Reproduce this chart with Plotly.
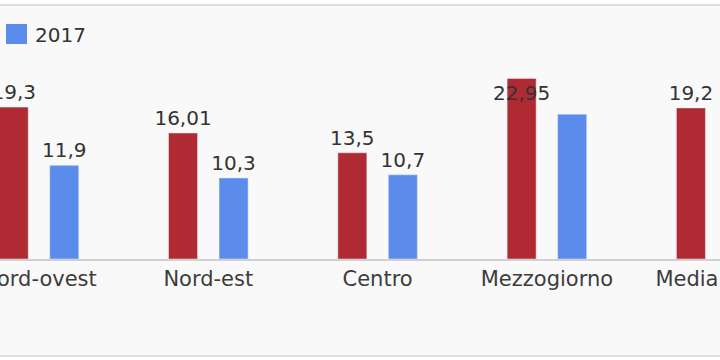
import plotly.graph_objects as go

categories = ["Nord-ovest", "Nord-est", "Centro", "Mezzogiorno", "Media Italia"]
values_2016 = [19.3, 16.01, 13.5, 22.95, 19.2]
values_2017 = [11.9, 10.3, 10.7, 18.4, None]
labels_2016 = ["19,3", "16,01", "13,5", "22,95", "19,2"]
labels_2017 = ["11,9", "10,3", "10,7", "", ""]
series_names = ["2016", "2017"]

RED = "#b02a33"
BLUE = "#5b8ceb"
FONT = "DejaVu Sans"

fig = go.Figure()
fig.add_trace(go.Bar(
    x=categories, y=values_2016, name=series_names[0], marker_color=RED,
    text=labels_2016,
    textposition=["outside", "outside", "outside", "inside", "outside"],
    insidetextanchor="end", textangle=0,
    textfont=dict(family=FONT, size=20, color="#333333"),
    insidetextfont=dict(family=FONT, size=20, color="#333333"),
    outsidetextfont=dict(family=FONT, size=20, color="#333333"),
    constraintext="none", cliponaxis=False, showlegend=False,
))
fig.add_trace(go.Bar(
    x=categories, y=values_2017, name=series_names[1], marker_color=BLUE,
    text=labels_2017, textposition="outside", textangle=0,
    textfont=dict(family=FONT, size=20, color="#333333"),
    constraintext="none", cliponaxis=False, showlegend=False,
))

W, H = 720, 360
mt, mb = 78, 101
ph = H - mt - mb

def py2paper(py):
    return (H - mb - py) / ph

shapes = [
    dict(type="rect", xref="paper", yref="paper", x0=-0.01, x1=1.01,
         y0=py2paper(356), y1=py2paper(5), fillcolor="#f9f9f9",
         line=dict(color="#dedede", width=2), layer="below"),
    dict(type="rect", xref="paper", yref="paper", x0=-92 / W, x1=-71 / W,
         y0=py2paper(44), y1=py2paper(24), fillcolor=RED, line=dict(width=0)),
    dict(type="rect", xref="paper", yref="paper", x0=6 / W, x1=27 / W,
         y0=py2paper(44), y1=py2paper(24), fillcolor=BLUE, line=dict(width=0)),
]
annotations = [
    dict(xref="paper", yref="paper", x=-64 / W, y=py2paper(35), text=series_names[0],
         showarrow=False, xanchor="left", yanchor="middle",
         font=dict(family=FONT, size=20, color="#333333")),
    dict(xref="paper", yref="paper", x=33 / W, y=py2paper(35), text=series_names[1],
         showarrow=False, xanchor="left", yanchor="middle",
         font=dict(family=FONT, size=20, color="#333333")),
]

fig.update_layout(
    width=W, height=H,
    margin=dict(l=0, r=0, t=mt, b=mb, autoexpand=False),
    paper_bgcolor="white", plot_bgcolor="rgba(0,0,0,0)",
    barmode="group", bargap=0.403, bargroupgap=0.426,
    shapes=shapes, annotations=annotations,
    showlegend=False,
    xaxis=dict(range=[-0.2304, 4.0225], showline=True, linecolor="#d0d0d0", linewidth=2,
               showgrid=False, zeroline=False, ticks="",
               tickfont=dict(family=FONT, size=21, color="#3c3c3c")),
    yaxis=dict(range=[0, 23], visible=False, showgrid=False, zeroline=False),
)

fig.write_html("out.html", config={"displayModeBar": False},
               post_script="document.body.style.margin='0';document.body.style.overflow='hidden';")
